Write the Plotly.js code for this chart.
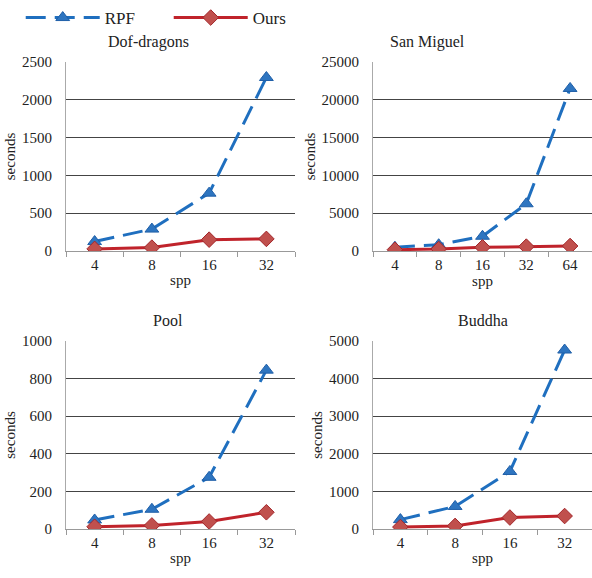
<!DOCTYPE html>
<html><head><meta charset="utf-8">
<script src="https://cdn.plot.ly/plotly-3.0.1.min.js"></script>
<style>html,body{margin:0;padding:0;background:#fff}</style>
</head><body><div id="chart" style="width:592px;height:578px"></div>
<script>
const sppA = ["4", "8", "16", "32"];
const sppB = ["4", "8", "16", "32", "64"];
const dofRPF = [125, 290, 765, 2295];
const dofOurs = [28, 45, 150, 160];
const smRPF = [500, 830, 1950, 6250, 21500];
const smOurs = [170, 260, 490, 580, 660];
const poolRPF = [48, 105, 275, 845];
const poolOurs = [12, 19, 40, 89];
const budRPF = [250, 600, 1530, 4760];
const budOurs = [52, 82, 305, 345];
const titles = ["Dof-dragons", "San Miguel", "Pool", "Buddha"];

const FONT = "Liberation Serif";
const blue = "#1f6fbf", red = "#c0232b";

function rpf(x, y, ax, show) {
  return {x: x, y: y, xaxis: "x" + ax, yaxis: "y" + ax, name: "RPF", showlegend: show,
    mode: "lines+markers", type: "scatter",
    line: {color: blue, width: 3, dash: "20px,9px"},
    marker: {symbol: "triangle-up", size: 12, color: "#2e75c0", line: {color: "#1f5fa8", width: 1}}};
}
function ours(x, y, ax, show) {
  return {x: x, y: y, xaxis: "x" + ax, yaxis: "y" + ax, name: "Ours", showlegend: show,
    mode: "lines+markers", type: "scatter",
    line: {color: red, width: 3},
    marker: {symbol: "diamond", size: 12, color: "#c0504d", line: {color: "#a3262a", width: 1}}};
}
const data = [
  rpf(sppA, dofRPF, "", true), ours(sppA, dofOurs, "", true),
  rpf(sppB, smRPF, "2", false), ours(sppB, smOurs, "2", false),
  rpf(sppA, poolRPF, "3", false), ours(sppA, poolOurs, "3", false),
  rpf(sppA, budRPF, "4", false), ours(sppA, budOurs, "4", false)
];

function xa(dom, cats, anchor) {
  return {domain: dom, anchor: anchor, type: "category", categoryorder: "array", categoryarray: cats,
    range: [-0.5, cats.length - 0.5], tickson: "boundaries", ticks: "outside", ticklen: 5,
    tickcolor: "#999", showline: true, linecolor: "#999", linewidth: 1, showgrid: false,
    tickfont: {family: FONT, size: 15, color: "#222"},
    title: {text: "spp", font: {family: FONT, size: 15, color: "#222"}, standoff: 2}, fixedrange: true};
}
function ya(dom, max, dt, anchor) {
  return {domain: dom, anchor: anchor, range: [0, max], dtick: dt, tick0: 0, showline: true, linecolor: "#aaa",
    showgrid: true, gridcolor: "#444", gridwidth: 1, zeroline: false, ticks: "", ticklabelstandoff: 10,
    tickformat: "d",
    tickfont: {family: FONT, size: 15, color: "#222"},
    title: {text: "seconds", font: {family: FONT, size: 15, color: "#222"}, standoff: 2}, fixedrange: true};
}
const topDom = [1 - 251/578, 1 - 62/578];
const botDom = [1 - 529/578, 1 - 341/578];
const leftDom = [66/592, 295/592];
const rightDom = [373/592, 1];

const layout = {
  width: 592, height: 578, margin: {l: 0, r: 0, t: 0, b: 0},
  paper_bgcolor: "#fff", plot_bgcolor: "#fff",
  font: {family: FONT, color: "#222"},
  showlegend: true,
  legend: {orientation: "h", x: 0.035, y: 1, xanchor: "left", yanchor: "top", itemwidth: 74, entrywidth: 59,
    font: {family: FONT, size: 17, color: "#222"}, tracegroupgap: 0, bgcolor: "rgba(0,0,0,0)"},
  xaxis: xa(leftDom, sppA, "y"), yaxis: ya(topDom, 2500, 500, "x"),
  xaxis2: xa(rightDom, sppB, "y2"), yaxis2: ya(topDom, 25000, 5000, "x2"),
  xaxis3: xa(leftDom, sppA, "y3"), yaxis3: ya(botDom, 1000, 200, "x3"),
  xaxis4: xa(rightDom, sppA, "y4"), yaxis4: ya(botDom, 5000, 1000, "x4"),
  annotations: [
    {text: titles[0], x: 148/592, y: 1 - 42/578},
    {text: titles[1], x: 427/592, y: 1 - 42/578},
    {text: titles[2], x: 168/592, y: 1 - 320/578},
    {text: titles[3], x: 483/592, y: 1 - 320/578}
  ].map(a => Object.assign(a, {xref: "paper", yref: "paper", showarrow: false, xanchor: "center", yanchor: "middle",
    font: {family: FONT, size: 16, color: "#222"}}))
};
Plotly.newPlot("chart", data, layout, {displayModeBar: false, staticPlot: true});
</script></body></html>
